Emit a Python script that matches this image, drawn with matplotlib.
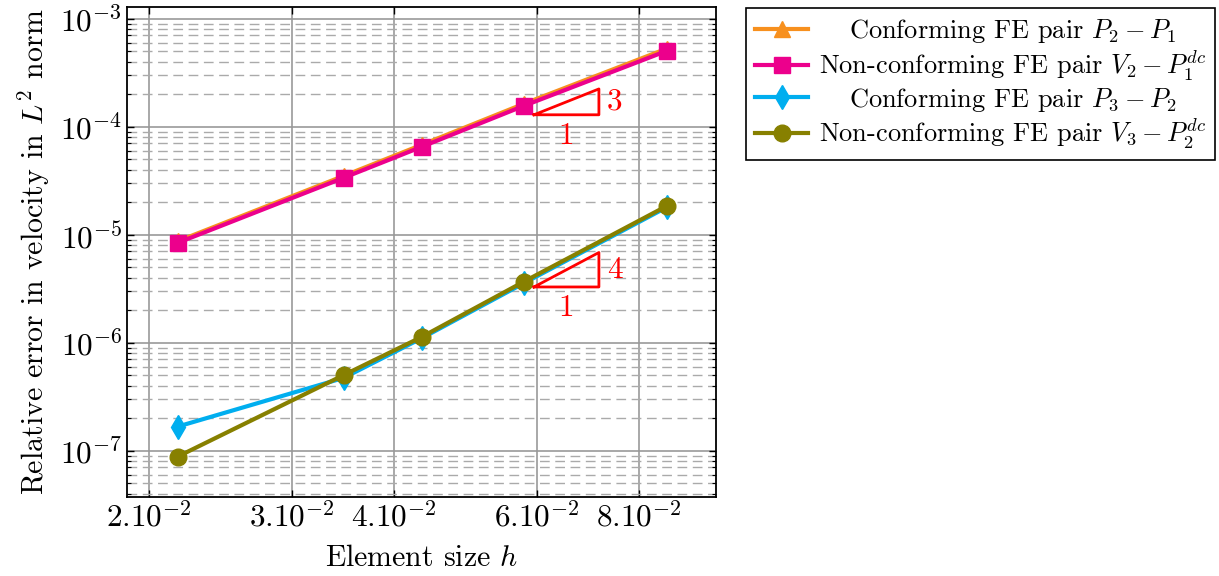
import numpy as np
import matplotlib
matplotlib.use("Agg")
import matplotlib.pyplot as plt
import matplotlib.transforms as mtransforms
from matplotlib.ticker import FixedLocator, LogLocator, NullLocator

# ===============================
# Data
# ===============================
h = [0.0217, 0.0347, 0.0433, 0.0578, 0.0867]

err_p2p1 = [8.7e-6, 3.5e-5, 6.8e-5, 1.63e-4, 5.3e-4]      # conforming P2-P1
err_v2p1dc = [8.4e-6, 3.36e-5, 6.52e-5, 1.56e-4, 5.05e-4]  # non-conforming V2-P1dc
err_p3p2 = [1.67e-7, 4.71e-7, 1.10e-6, 3.55e-6, 1.80e-5]   # conforming P3-P2
err_v3p2dc = [8.8e-8, 5.0e-7, 1.13e-6, 3.67e-6, 1.85e-5]   # non-conforming V3-P2dc

labels = [
    r"Conforming FE pair $P_2 - P_1$",
    r"Non-conforming FE pair $V_2 - P_1^{dc}$",
    r"Conforming FE pair $P_3 - P_2$",
    r"Non-conforming FE pair $V_3 - P_2^{dc}$",
]

xticks = [0.02, 0.03, 0.04, 0.06, 0.08]
xticklabels = [r"$2.10^{-2}$", r"$3.10^{-2}$", r"$4.10^{-2}$",
               r"$6.10^{-2}$", r"$8.10^{-2}$"]

# slope triangles: (x0, x1, y base, slope)
slope_tris = [(0.0595, 0.0715, 1.29e-4, 3), (0.0595, 0.0715, 3.28e-6, 4)]

# ===============================
# Style
# ===============================
plt.rcParams["font.family"] = "serif"
plt.rcParams["font.serif"] = ["cmr10", "DejaVu Serif"]
plt.rcParams["mathtext.fontset"] = "cm"
plt.rcParams["axes.unicode_minus"] = False
fs = 22.5
fs_lab = 21.5
fs_leg = 19

fig = plt.figure(figsize=(12.19, 5.76), dpi=100)
ax = fig.add_axes([127 / 1219, 1 - 497 / 576, (716 - 127) / 1219, (497 - 7) / 576])

c_orange = "#F7901E"
c_magenta = "#EC008C"
c_cyan = "#00AEEF"
c_olive = "#878000"

ax.plot(h, err_p2p1, color=c_orange, lw=3, marker="^", ms=12, label=labels[0], zorder=3)
ax.plot(h, err_v2p1dc, color=c_magenta, lw=3, marker="s", ms=12, label=labels[1], zorder=4)
ax.plot(h, err_p3p2, color=c_cyan, lw=3, marker="d", ms=12, label=labels[2], zorder=3)
ax.plot(h, err_v3p2dc, color=c_olive, lw=3, marker="o", ms=12, label=labels[3], zorder=4)

ax.set_xscale("log")
ax.set_yscale("log")
ax.set_xlim(0.0188, 0.0996)
ax.set_ylim(3.72e-8, 1.285e-3)

ax.xaxis.set_major_locator(FixedLocator(xticks))
ax.set_xticklabels(xticklabels)
ax.xaxis.set_minor_locator(NullLocator())
ax.yaxis.set_major_locator(LogLocator(base=10))
ax.yaxis.set_minor_locator(LogLocator(base=10, subs=np.arange(2, 10)))

ax.grid(True, which="major", axis="both", color="#999999", lw=1.2, ls="-")
ax.grid(True, which="minor", axis="y", color="#aaaaaa", lw=1.0, ls=(0, (7, 4)))
ax.set_axisbelow(True)

ax.tick_params(which="both", direction="in", top=True, right=True, labelsize=fs)
ax.tick_params(which="major", length=5, width=1)
ax.tick_params(which="minor", length=3, width=0.8)
ax.yaxis.set_minor_formatter(plt.NullFormatter())
for s in ax.spines.values():
    s.set_linewidth(1.3)

ax.set_xlabel(r"Element size $h$", fontsize=fs_lab, labelpad=8)
ax.set_ylabel(r"Relative error in velocity in $L^2$ norm", fontsize=fs_lab, labelpad=6)

# ===============================
# Slope triangles
# ===============================
for x0, x1, y0, k in slope_tris:
    y1 = y0 * (x1 / x0) ** k
    ax.plot([x0, x1, x1, x0], [y0, y0, y1, y0], color="red", lw=2, zorder=5)
    ax.annotate(str(k), (x1, np.sqrt(y0 * y1)), xytext=(6, 0), textcoords="offset points",
                color="red", fontsize=fs, ha="left", va="center")
    ax.annotate("1", (np.sqrt(x0 * x1), y0), xytext=(0, -5), textcoords="offset points",
                color="red", fontsize=fs, ha="center", va="top")

# ===============================
# Legend (labels centred like pgfplots)
# ===============================
leg = ax.legend(loc="upper left", bbox_to_anchor=(746 / 1219, 1 - 8 / 576),
                bbox_transform=fig.transFigure, borderaxespad=0, fontsize=fs_leg,
                frameon=True, fancybox=False, edgecolor="black", framealpha=1,
                handlelength=2.0, handletextpad=0.4, labelspacing=0.12,
                borderpad=0.35)
leg.get_frame().set_linewidth(1.2)

fig.canvas.draw()
r = fig.canvas.get_renderer()
texts = leg.get_texts()
bbs = [t.get_window_extent(r) for t in texts]
left = min(b.x0 for b in bbs)
right = max(b.x1 for b in bbs)
for t, b in zip(texts, bbs):
    shift = (left + right) / 2 - (b.x0 + b.x1) / 2
    t.set_transform(t.get_transform() + mtransforms.Affine2D().translate(shift, 0))

fig.savefig("out.png", dpi=100)
